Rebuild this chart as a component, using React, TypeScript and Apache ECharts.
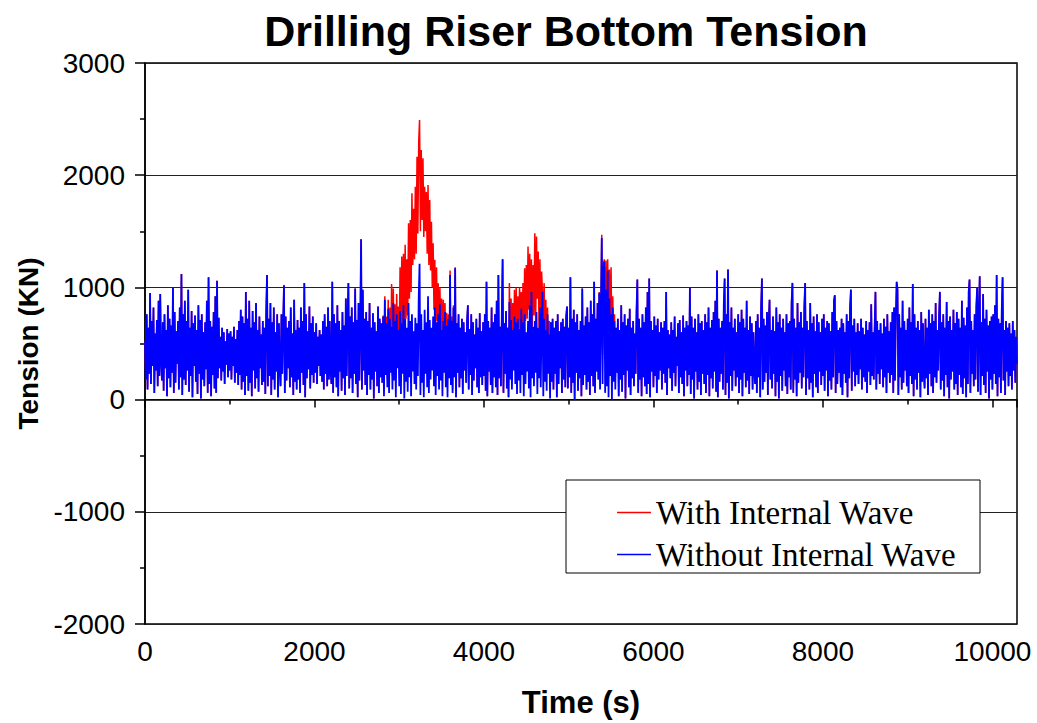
import React, { useEffect, useRef } from "react";
import * as echarts from "echarts";

const timeStep = 10; // seconds between samples

// Tension without internal wave (KN), sampled every 10 s from t = 0 (one row = 200 s)
const withoutWave = [
  520, 180, 760, 90, 640, 230, 950, 140, 700, 300, 820, 60, 590, 260, 710, 120, 880, 210, 940, 350,
  170, 690, 80, 760, 280, 620, 30, 840, 190, 720, 110, 660, 240, 1000, 60, 780, 150, 610, 320, 700,
  90, 820, 200, 1120, 40, 760, 180, 880, 130, 700, 260, 980, 70, 640, 210, 790, 20, 680, 300, 750,
  160, 620, 50, 840, 230, 710, 10, 760, 180, 600, 120, 690, 270, 880, 60, 1090, 140, 700, 30, 650,
  220, 780, 100, 920, 60, 1060, 190, 730, 280, 560, 170, 640, 250, 600, 140, 520, 310, 630, 200, 590,
  260, 610, 180, 560, 300, 650, 150, 540, 240, 620, 130, 700, 220, 800, 90, 740, 160, 680, 40, 960,
  210, 720, 80, 880, 150, 640, 30, 790, 260, 690, 100, 860, 190, 620, 70, 740, 280, 580, 130, 700,
  160, 640, 50, 780, 1110, 120, 720, 210, 860, 40, 690, 180, 820, 90, 600, 250, 760, 20, 680, 300,
  120, 760, 230, 690, 1020, 60, 740, 170, 640, 280, 700, 110, 820, 200, 590, 40, 890, 160, 620, 90,
  710, 180, 640, 60, 820, 240, 700, 130, 1040, 20, 760, 190, 610, 270, 830, 100, 680, 220, 740, 150,
  600, 240, 680, 140, 560, 300, 620, 210, 580, 160, 700, 90, 760, 230, 650, 120, 820, 180, 700, 260,
  140, 1050, 60, 760, 200, 680, 110, 840, 30, 700, 250, 620, 80, 780, 190, 660, 40, 900, 210, 720,
  1040, 100, 740, 190, 820, 60, 690, 230, 990, 140, 710, 20, 860, 170, 640, 1430, 90, 980, 260, 720,
  130, 780, 40, 700, 220, 860, 90, 640, 180, 770, 10, 690, 250, 610, 120, 830, 60, 720, 200, 680,
  150, 740, 30, 890, 220, 680, 110, 810, 60, 720, 240, 650, 90, 860, 170, 700, 20, 760, 280, 620,
  120, 790, 50, 680, 230, 840, 10, 720, 160, 640, 70, 860, 200, 700, 30, 760, 250, 610, 140, 730,
  90, 680, 210, 900, 1210, 40, 760, 150, 620, 20, 800, 230, 690, 110, 920, 60, 710, 180, 640, 260,
  740, 120, 820, 40, 690, 210, 760, 90, 850, 170, 620, 30, 700, 240, 780, 110, 660, 20, 720, 190,
  1110, 130, 700, 60, 820, 200, 1170, 20, 680, 240, 760, 110, 640, 190, 720, 50, 690, 260, 600, 150,
  700, 840, 90, 630, 220, 760, 40, 690, 170, 580, 280, 720, 110, 640, 60, 770, 200, 610, 130, 690,
  210, 760, 80, 1050, 30, 700, 250, 640, 130, 820, 60, 690, 200, 760, 110, 880, 40, 1110, 190, 650,
  120, 720, 1250, 60, 680, 230, 790, 100, 640, 20, 870, 180, 710, 90, 620, 260, 740, 140, 690, 50,
  720, 170, 630, 60, 810, 220, 690, 30, 760, 140, 600, 250, 700, 100, 840, 20, 960, 190, 650, 120,
  700, 240, 780, 50, 640, 190, 820, 110, 700, 960, 30, 720, 160, 620, 80, 760, 230, 580, 10, 690,
  160, 720, 90, 640, 230, 700, 20, 760, 140, 610, 280, 690, 60, 720, 180, 650, 110, 740, 830, 100,
  640, 200, 1090, 60, 720, 150, 800, 0, 690, 240, 760, 80, 620, 190, 700, 30, 990, 130, 660, 220,
  740, 90, 820, 160, 690, 40, 880, 210, 760, 120, 1050, 60, 720, 250, 860, 180, 950, 90, 800, 1440,
  140, 1150, 1230, 60, 980, 120, 1150, 20, 900, 210, 760, 0, 820, 160, 700, 90, 640, 240, 720, 30,
  620, 180, 840, 70, 690, 220, 760, 10, 660, 260, 720, 110, 810, 40, 640, 190, 700, 120, 590, 230,
  780, 1070, 60, 720, 180, 640, 30, 760, 200, 690, 120, 820, 50, 960, 140, 1080, 20, 700, 250, 620,
  110, 740, 210, 660, 60, 720, 180, 600, 260, 690, 90, 640, 230, 700, 150, 960, 40, 620, 280, 580,
  190, 690, 80, 620, 240, 740, 120, 560, 300, 680, 60, 710, 200, 600, 140, 750, 30, 640, 260, 700,
  120, 660, 220, 1000, 50, 740, 180, 640, 10, 720, 250, 600, 90, 760, 160, 680, 40, 700, 230, 620,
  140, 760, 60, 690, 220, 820, 30, 640, 190, 710, 100, 780, 250, 880, 70, 1150, 20, 720, 160, 640,
  230, 700, 90, 840, 1080, 40, 760, 150, 1160, 10, 690, 210, 820, 80, 640, 260, 720, 120, 600, 200,
  760, 60, 690, 180, 800, 30, 720, 240, 640, 110, 880, 170, 620, 50, 740, 210, 680, 90, 600, 260,
  140, 700, 60, 760, 200, 640, 20, 820, 1080, 90, 720, 160, 660, 240, 780, 40, 690, 890, 180, 620,
  100, 740, 230, 610, 30, 820, 160, 690, 10, 760, 210, 640, 80, 720, 260, 600, 120, 760, 50, 680,
  200, 700, 90, 860, 1040, 60, 720, 180, 640, 30, 860, 150, 690, 240, 780, 100, 640, 200, 820, 1040,
  40, 700, 190, 620, 90, 860, 150, 680, 20, 740, 230, 610, 110, 760, 60, 690, 250, 600, 130, 720,
  210, 760, 80, 640, 260, 700, 30, 680, 170, 610, 90, 780, 200, 880, 930, 60, 700, 140, 620, 240,
  640, 110, 720, 40, 680, 230, 600, 150, 760, 20, 700, 190, 820, 980, 80, 660, 250, 720, 120, 600,
  220, 680, 140, 610, 270, 720, 90, 640, 200, 580, 160, 700, 60, 620, 250, 690, 130, 850, 210, 600,
  180, 640, 960, 90, 700, 230, 620, 140, 680, 270, 590, 110, 720, 200, 650, 60, 760, 240, 610, 150,
  690, 220, 780, 60, 820, 170, 720, 1050, 980, 40, 760, 200, 640, 90, 880, 150, 700, 260, 620, 120,
  720, 60, 820, 210, 690, 140, 1030, 30, 760, 180, 640, 90, 700, 240, 620, 20, 780, 160, 680, 230,
  100, 720, 190, 640, 40, 800, 230, 680, 120, 760, 60, 700, 200, 860, 150, 620, 260, 740, 960, 90,
  690, 170, 760, 30, 640, 220, 870, 110, 700, 10, 740, 180, 620, 250, 800, 90, 680, 140, 780, 40,
  720, 220, 640, 110, 880, 50, 730, 190, 660, 20, 820, 140, 960, 1070, 60, 700, 230, 620, 120, 760,
  180, 830, 1000, 70, 760, 1100, 40, 690, 210, 940, 130, 720, 60, 800, 250, 660, 10, 700, 180, 740,
  90, 760, 230, 840, 140, 1110, 30, 720, 200, 680, 60, 780, 1090, 170, 620, 40, 700, 250, 640, 120,
  680, 210, 590, 90, 700, 260, 620, 150, 560, 320,
];

// With internal wave: differs from the above only while the internal wave passes
const burst1Start = 2800;
const burst1 = [
  150, 750, 60, 920, 270, 740, 180, 890, 150, 820, 350, 1030, 210, 990, 310, 850, 190, 940, 480, 830,
  490, 1180, 470, 1275, 680, 1300, 520, 1379, 720, 1250, 750, 1572, 900, 1600, 960, 1839, 1200, 1700, 1250, 1898,
  1300, 2165, 1480, 2300, 2491, 1500, 2224, 1600, 2150, 1450, 1898, 1500, 1850, 1300, 1913, 1200, 1779, 1150, 1586, 1000,
  1394, 800, 1246, 620, 1180, 700, 1038, 520, 1000, 560, 900, 380, 890, 500, 860, 350, 773, 200, 760, 300,
  1150, 200, 740, 90, 840, 210, 1180, 20, 680, 240, 760,
];
const burst2Start = 4300;
const burst2 = [
  1040, 400, 900, 380, 860, 450, 980, 420, 1000, 350,
  920, 600, 1000, 620, 960, 500, 1040, 650, 1171, 700, 1200, 720, 1364, 800, 1300, 700, 1250, 650, 1200, 750,
  1483, 700, 1453, 900, 1320, 640, 1250, 700, 1141, 960, 700, 1038, 500, 890, 400, 820, 300, 700, 100, 690,
  160, 720, 90,
];
const burst3Start = 5360;
const burst3 = [
  960, 300, 820, 1470, 400, 1200, 1250, 500, 1240, 600, 1250, 450, 1160, 600, 1180, 350, 920, 300, 760, 200,
  640,
];

const seriesNames = ["With Internal Wave", "Without Internal Wave"];
const xMax = 10290;

const sans = "Arial, 'Liberation Sans', Helvetica, sans-serif";
const serif = "'Times New Roman', 'Liberation Serif', serif";

function buildWithWave(): number[] {
  const out = withoutWave.slice();
  const bursts: [number, number[]][] = [
    [burst1Start, burst1],
    [burst2Start, burst2],
    [burst3Start, burst3],
  ];
  for (const [start, vals] of bursts) {
    const i0 = Math.round(start / timeStep);
    vals.forEach((v, i) => {
      out[i0 + i] = v;
    });
  }
  return out;
}

const toPairs = (vals: number[]) => vals.map((v, i) => [i * timeStep, v]);

export default function App() {
  const ref = useRef<HTMLDivElement>(null);
  useEffect(() => {
    if (!ref.current) return;
    const chart = echarts.init(ref.current, undefined, { renderer: "svg" });
    const withWave = buildWithWave();
    chart.setOption({
      animation: false,
      backgroundColor: "#fff",
      title: {
        text: "Drilling Riser Bottom Tension",
        left: 561,
        textAlign: "center",
        top: 4,
        textStyle: { fontFamily: sans, fontSize: 43, fontWeight: "bold", color: "#000" },
      },
      grid: {
        left: 145,
        right: 20,
        top: 63,
        bottom: 98,
        show: true,
        borderColor: "#000",
        borderWidth: 1.5,
        backgroundColor: "transparent",
      },
      legend: {
        orient: "vertical",
        left: 612,
        top: 491,
        itemWidth: 34,
        itemHeight: 1.5,
        itemGap: 9,
        icon: "rect",
        data: seriesNames,
        textStyle: { fontFamily: serif, fontSize: 33, color: "#000", lineHeight: 32 },
        z: 10,
      },
      graphic: [
        {
          type: "rect",
          shape: { x: 566, y: 480, width: 414, height: 93 },
          style: { fill: "#fff", stroke: "#000", lineWidth: 1 },
          z: 5,
        },
      ],
      xAxis: {
        type: "value",
        min: 0,
        max: xMax,
        interval: 2000,
        name: "Time (s)",
        nameLocation: "middle",
        nameGap: 63,
        nameTextStyle: { fontFamily: sans, fontSize: 31, fontWeight: "bold", color: "#000" },
        axisLine: { lineStyle: { color: "#000", width: 1.5 } },
        axisTick: { length: 8, lineStyle: { color: "#000", width: 1.5 } },
        minorTick: { show: true, splitNumber: 2, length: 5, lineStyle: { color: "#000", width: 1.5 } },
        axisLabel: {
          fontFamily: sans,
          fontSize: 28,
          color: "#000",
          margin: 13,
          showMaxLabel: false,
          formatter: (v: number) => String(v),
        },
        splitLine: { show: false },
      },
      yAxis: {
        type: "value",
        min: -2000,
        max: 3000,
        interval: 1000,
        name: "Tension (KN)",
        nameLocation: "middle",
        nameGap: 103,
        nameTextStyle: { fontFamily: sans, fontSize: 28, fontWeight: "bold", color: "#000" },
        axisLine: { lineStyle: { color: "#000", width: 1.5 } },
        axisTick: { length: 10, lineStyle: { color: "#000", width: 1.5 } },
        minorTick: { show: true, splitNumber: 2, length: 5, lineStyle: { color: "#000", width: 1.5 } },
        axisLabel: {
          fontFamily: sans,
          fontSize: 28,
          color: "#000",
          margin: 20,
          formatter: (v: number) => String(v),
        },
        splitLine: { show: true, lineStyle: { color: "#222", width: 1 } },
      },
      series: [
        {
          name: seriesNames[0],
          type: "line",
          data: toPairs(withWave),
          showSymbol: false,
          symbol: "none",
          lineStyle: { color: "#ff0000", width: 1.5 },
          itemStyle: { color: "#ff0000" },
          z: 2,
        },
        {
          name: seriesNames[1],
          type: "line",
          data: toPairs(withoutWave),
          showSymbol: false,
          symbol: "none",
          lineStyle: { color: "#0000ff", width: 1.8 },
          itemStyle: { color: "#0000ff" },
          z: 3,
        },
      ],
    });
    return () => chart.dispose();
  }, []);
  return (
    <div
      ref={ref}
      style={{ position: "fixed", left: 0, top: 0, width: 1037, height: 723, background: "#fff" }}
    />
  );
}
